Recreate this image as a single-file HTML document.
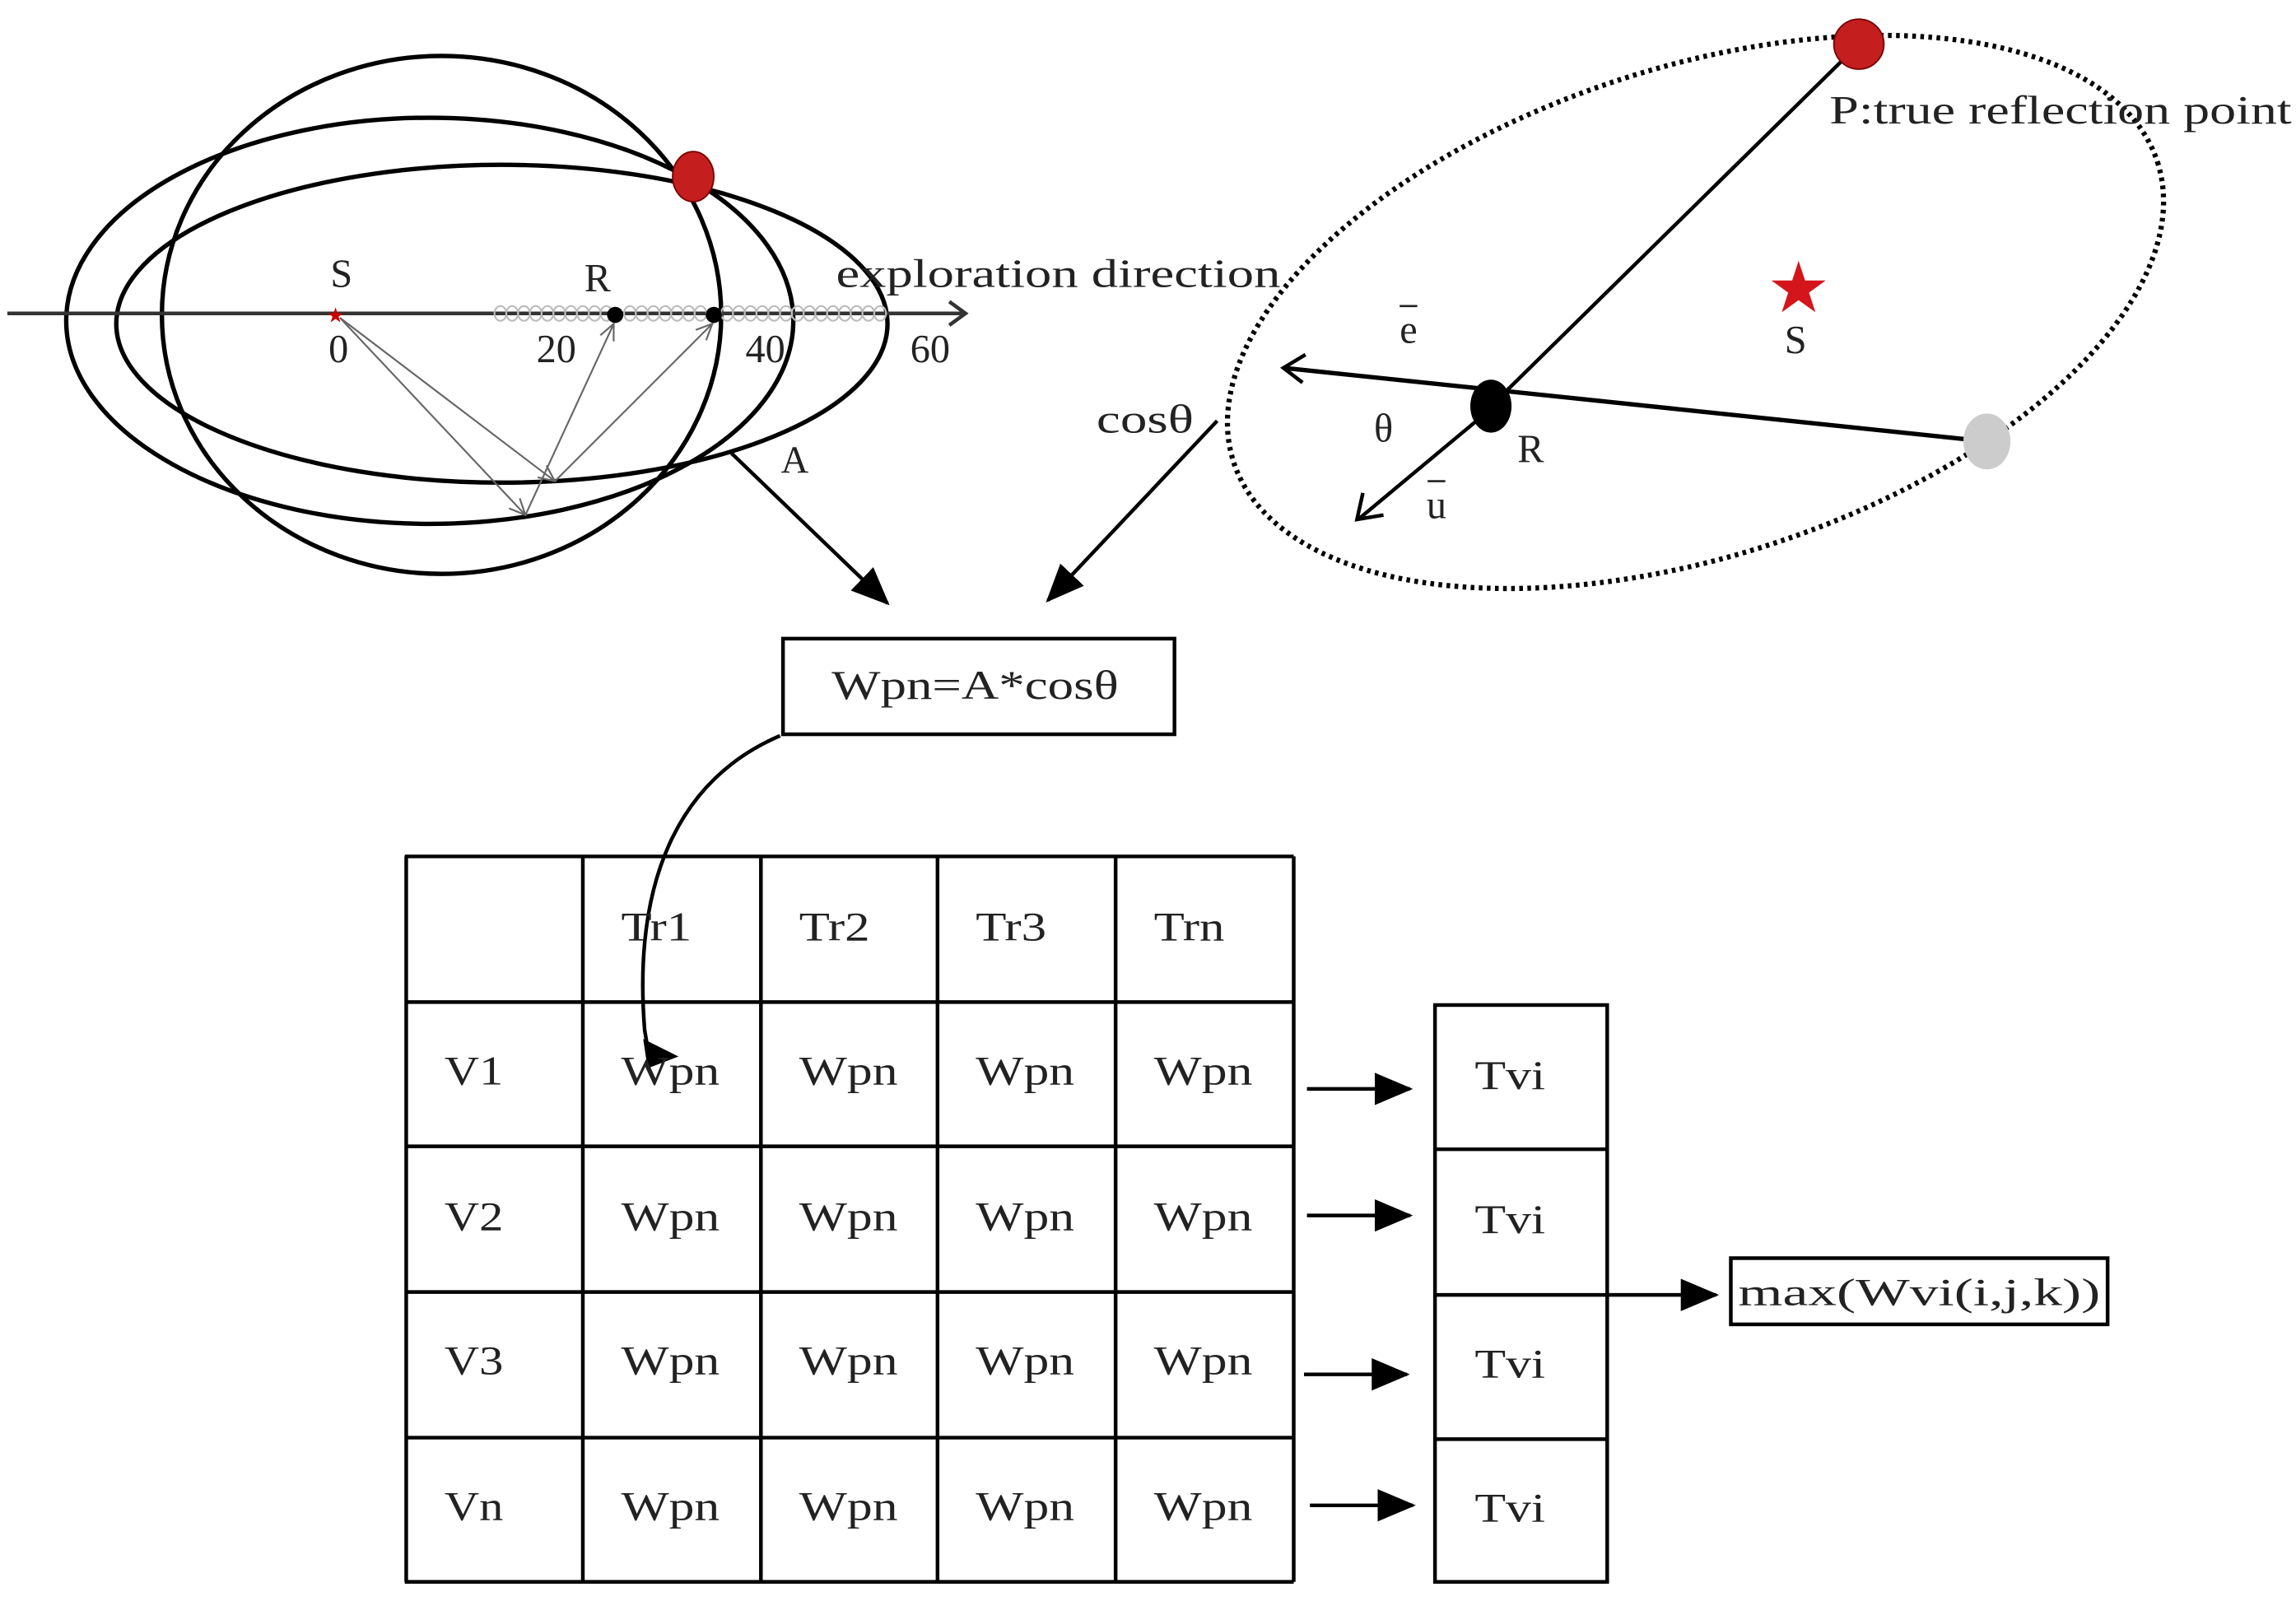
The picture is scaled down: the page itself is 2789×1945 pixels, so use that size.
<!DOCTYPE html>
<html><head><meta charset="utf-8"><style>
html,body{margin:0;padding:0;background:#fff;}
svg{display:block;}
text{font-family:"Liberation Serif",serif;fill:#222;}
</style></head><body>
<svg width="2789" height="1945" viewBox="0 0 1560 1088" preserveAspectRatio="none" xmlns="http://www.w3.org/2000/svg">
<defs>
<marker id="big" markerWidth="26" markerHeight="22" refX="24" refY="11" orient="auto" markerUnits="userSpaceOnUse"><path d="M0,0 L26,11 L0,22 z" fill="#000"/></marker>
<marker id="ga" markerWidth="12" markerHeight="12" refX="11" refY="6" orient="auto" markerUnits="userSpaceOnUse"><path d="M0,1 L11,6 L0,11" fill="none" stroke="#666" stroke-width="1.2"/></marker>
</defs>
<!-- left diagram -->
<g fill="none" stroke="#000" stroke-width="3">
<ellipse cx="300" cy="214" rx="190" ry="176"/>
<ellipse cx="292" cy="218" rx="247" ry="138"/>
<ellipse cx="341" cy="220" rx="262" ry="108"/>
</g>
<line x1="5" y1="213" x2="655" y2="213" stroke="#333" stroke-width="2.5"/>
<path d="M645,205 L656,213 L645,221" fill="none" stroke="#333" stroke-width="2.5"/>
<g fill="none" stroke="#bbb" stroke-width="1.2">
<ellipse cx="340" cy="213" rx="4" ry="5"/><ellipse cx="348" cy="213" rx="4" ry="5"/><ellipse cx="356" cy="213" rx="4" ry="5"/><ellipse cx="364" cy="213" rx="4" ry="5"/><ellipse cx="372" cy="213" rx="4" ry="5"/><ellipse cx="380" cy="213" rx="4" ry="5"/><ellipse cx="388" cy="213" rx="4" ry="5"/><ellipse cx="396" cy="213" rx="4" ry="5"/><ellipse cx="404" cy="213" rx="4" ry="5"/><ellipse cx="412" cy="213" rx="4" ry="5"/><ellipse cx="428" cy="213" rx="4" ry="5"/><ellipse cx="436" cy="213" rx="4" ry="5"/><ellipse cx="444" cy="213" rx="4" ry="5"/><ellipse cx="452" cy="213" rx="4" ry="5"/><ellipse cx="460" cy="213" rx="4" ry="5"/><ellipse cx="468" cy="213" rx="4" ry="5"/><ellipse cx="476" cy="213" rx="4" ry="5"/><ellipse cx="494" cy="213" rx="4" ry="5"/><ellipse cx="502" cy="213" rx="4" ry="5"/><ellipse cx="510" cy="213" rx="4" ry="5"/><ellipse cx="518" cy="213" rx="4" ry="5"/><ellipse cx="526" cy="213" rx="4" ry="5"/><ellipse cx="534" cy="213" rx="4" ry="5"/><ellipse cx="542" cy="213" rx="4" ry="5"/><ellipse cx="550" cy="213" rx="4" ry="5"/><ellipse cx="558" cy="213" rx="4" ry="5"/><ellipse cx="566" cy="213" rx="4" ry="5"/><ellipse cx="574" cy="213" rx="4" ry="5"/><ellipse cx="582" cy="213" rx="4" ry="5"/><ellipse cx="590" cy="213" rx="4" ry="5"/><ellipse cx="598" cy="213" rx="4" ry="5"/>
</g>
<g stroke="#666" stroke-width="1.2" fill="none">
<line x1="231" y1="216" x2="357" y2="350" marker-end="url(#ga)"/>
<line x1="231" y1="216" x2="377" y2="327" marker-end="url(#ga)"/>
<line x1="357" y1="350" x2="417" y2="220" marker-end="url(#ga)"/>
<line x1="377" y1="327" x2="484" y2="220" marker-end="url(#ga)"/>
</g>
<circle cx="418" cy="214" r="5.5" fill="#000"/>
<circle cx="485" cy="214" r="5.5" fill="#000"/>
<text x="228" y="219" font-size="14" style="fill:#c00" text-anchor="middle">★</text>
<ellipse cx="471" cy="120" rx="14" ry="17" fill="#c41e1e" stroke="#700" stroke-width="1"/>
<text x="232" y="195" font-size="27" text-anchor="middle">S</text>
<text x="406" y="198" font-size="27" text-anchor="middle">R</text>
<text x="230" y="246" font-size="27" text-anchor="middle">0</text>
<text x="378" y="246" font-size="27" text-anchor="middle">20</text>
<text x="520" y="246" font-size="27" text-anchor="middle">40</text>
<text x="632" y="246" font-size="27" text-anchor="middle">60</text>
<text x="568" y="195" font-size="27" textLength="302" lengthAdjust="spacingAndGlyphs">exploration direction</text>
<text x="540" y="321" font-size="26" text-anchor="middle">A</text>
<line x1="497" y1="308" x2="603" y2="410" stroke="#000" stroke-width="2.5" marker-end="url(#big)"/>
<!-- right diagram -->
<ellipse cx="1152" cy="212" rx="330" ry="166" transform="rotate(-18 1152 212)" fill="none" stroke="#000" stroke-width="3.5" stroke-dasharray="2.5 3"/>
<line x1="1263" y1="30" x2="1013" y2="276" stroke="#000" stroke-width="2.5"/>
<line x1="1350" y1="300" x2="872" y2="250" stroke="#000" stroke-width="3"/>
<path d="M887,241 L872,250 L885,260" fill="none" stroke="#000" stroke-width="2.5"/>
<line x1="1008" y1="282" x2="924" y2="352" stroke="#000" stroke-width="2.5"/>
<path d="M926,335 L922,353 L940,350" fill="none" stroke="#000" stroke-width="2.5"/>
<ellipse cx="1013" cy="276" rx="14" ry="18" fill="#000"/>
<ellipse cx="1350" cy="300" rx="16" ry="19" fill="#ccc"/>
<ellipse cx="1263" cy="30" rx="17" ry="17" fill="#c41e1e" stroke="#700" stroke-width="1"/>
<text x="1222" y="212" font-size="48" text-anchor="middle" style="fill:#d4151b">★</text>
<text x="1220" y="240" font-size="27" text-anchor="middle">S</text>
<text x="1243" y="84" font-size="27" textLength="314" lengthAdjust="spacingAndGlyphs">P:true reflection point</text>
<text x="957" y="233" font-size="27" text-anchor="middle">e</text>
<line x1="951" y1="208" x2="963" y2="208" stroke="#222" stroke-width="1.5"/>
<text x="940" y="300" font-size="27" text-anchor="middle">θ</text>
<text x="1040" y="314" font-size="27" text-anchor="middle">R</text>
<text x="976" y="352" font-size="27" text-anchor="middle">u</text>
<line x1="970" y1="327" x2="982" y2="327" stroke="#222" stroke-width="1.5"/>
<text x="745" y="294" font-size="27" textLength="66" lengthAdjust="spacingAndGlyphs">cosθ</text>
<line x1="827" y1="286" x2="712" y2="408" stroke="#000" stroke-width="2.5" marker-end="url(#big)"/>
<!-- formula box -->
<rect x="532" y="434" width="266" height="65" fill="none" stroke="#000" stroke-width="2.5"/>
<text x="565" y="475" font-size="28" textLength="195" lengthAdjust="spacingAndGlyphs">Wpn=A*cosθ</text>
<path d="M530,500 C460,530 430,600 438,700 L440,712" fill="none" stroke="#000" stroke-width="2.5"/>
<path d="M437,706 L461,718 L440,726 z" fill="#000"/>
<!-- table -->
<g stroke="#000" stroke-width="2.5">
<line x1="275" y1="582" x2="879" y2="582"/><line x1="275" y1="681" x2="879" y2="681"/><line x1="275" y1="779" x2="879" y2="779"/><line x1="275" y1="878" x2="879" y2="878"/><line x1="275" y1="977" x2="879" y2="977"/><line x1="275" y1="1075" x2="879" y2="1075"/>
<line x1="276" y1="582" x2="276" y2="1075"/><line x1="396" y1="582" x2="396" y2="1075"/><line x1="517" y1="582" x2="517" y2="1075"/><line x1="637" y1="582" x2="637" y2="1075"/><line x1="758" y1="582" x2="758" y2="1075"/><line x1="879" y1="582" x2="879" y2="1075"/>
<rect x="975" y="683" width="117" height="392" fill="none"/>
<line x1="975" y1="781" x2="1092" y2="781"/><line x1="975" y1="880" x2="1092" y2="880"/><line x1="975" y1="978" x2="1092" y2="978"/>
</g>
<g font-size="28" lengthAdjust="spacingAndGlyphs">
<text x="422" y="639" textLength="48" lengthAdjust="spacingAndGlyphs">Tr1</text><text x="543" y="639" textLength="48" lengthAdjust="spacingAndGlyphs">Tr2</text><text x="663" y="639" textLength="48" lengthAdjust="spacingAndGlyphs">Tr3</text><text x="784" y="639" textLength="48" lengthAdjust="spacingAndGlyphs">Trn</text>
<text x="302" y="737" textLength="40" lengthAdjust="spacingAndGlyphs">V1</text><text x="302" y="836" textLength="40" lengthAdjust="spacingAndGlyphs">V2</text><text x="302" y="934" textLength="40" lengthAdjust="spacingAndGlyphs">V3</text><text x="302" y="1033" textLength="40" lengthAdjust="spacingAndGlyphs">Vn</text>
<text x="422" y="737" textLength="67" lengthAdjust="spacingAndGlyphs">Wpn</text><text x="543" y="737" textLength="67" lengthAdjust="spacingAndGlyphs">Wpn</text><text x="663" y="737" textLength="67" lengthAdjust="spacingAndGlyphs">Wpn</text><text x="784" y="737" textLength="67" lengthAdjust="spacingAndGlyphs">Wpn</text>
<text x="422" y="836" textLength="67" lengthAdjust="spacingAndGlyphs">Wpn</text><text x="543" y="836" textLength="67" lengthAdjust="spacingAndGlyphs">Wpn</text><text x="663" y="836" textLength="67" lengthAdjust="spacingAndGlyphs">Wpn</text><text x="784" y="836" textLength="67" lengthAdjust="spacingAndGlyphs">Wpn</text>
<text x="422" y="934" textLength="67" lengthAdjust="spacingAndGlyphs">Wpn</text><text x="543" y="934" textLength="67" lengthAdjust="spacingAndGlyphs">Wpn</text><text x="663" y="934" textLength="67" lengthAdjust="spacingAndGlyphs">Wpn</text><text x="784" y="934" textLength="67" lengthAdjust="spacingAndGlyphs">Wpn</text>
<text x="422" y="1033" textLength="67" lengthAdjust="spacingAndGlyphs">Wpn</text><text x="543" y="1033" textLength="67" lengthAdjust="spacingAndGlyphs">Wpn</text><text x="663" y="1033" textLength="67" lengthAdjust="spacingAndGlyphs">Wpn</text><text x="784" y="1033" textLength="67" lengthAdjust="spacingAndGlyphs">Wpn</text>
<text x="1002" y="740" textLength="48" lengthAdjust="spacingAndGlyphs">Tvi</text><text x="1002" y="838" textLength="48" lengthAdjust="spacingAndGlyphs">Tvi</text><text x="1002" y="936" textLength="48" lengthAdjust="spacingAndGlyphs">Tvi</text><text x="1002" y="1034" textLength="48" lengthAdjust="spacingAndGlyphs">Tvi</text>
</g>
<g stroke="#000" stroke-width="2.5">
<line x1="888" y1="740" x2="958" y2="740" marker-end="url(#big)"/>
<line x1="888" y1="826" x2="958" y2="826" marker-end="url(#big)"/>
<line x1="886" y1="934" x2="956" y2="934" marker-end="url(#big)"/>
<line x1="890" y1="1023" x2="960" y2="1023" marker-end="url(#big)"/>
<line x1="1092" y1="880" x2="1166" y2="880" marker-end="url(#big)"/>
</g>
<rect x="1176" y="855" width="256" height="45" fill="none" stroke="#000" stroke-width="2.5"/>
<text x="1181" y="887" font-size="26" textLength="246" lengthAdjust="spacingAndGlyphs">max(Wvi(i,j,k))</text>
</svg>
</body></html>
